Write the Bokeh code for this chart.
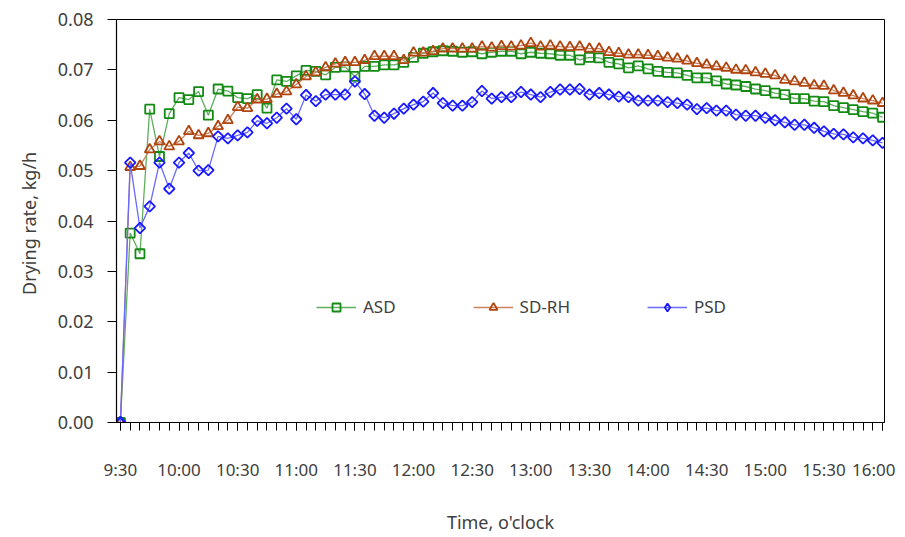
from bokeh.plotting import figure
from bokeh.models import Range1d, FixedTicker, NumeralTickFormatter, Legend, LegendItem
from bokeh.embed import file_html
from bokeh.resources import INLINE

# minutes after 9:30 (5-minute readings)
minutes = [0, 5, 10, 15, 20, 25, 30, 35, 40, 45, 50, 55, 60, 65, 70, 75, 80, 85, 90, 95,
           100, 105, 110, 115, 120, 125, 130, 135, 140, 145, 150, 155, 160, 165, 170, 175,
           180, 185, 190, 195, 200, 205, 210, 215, 220, 225, 230, 235, 240, 245, 250, 255,
           260, 265, 270, 275, 280, 285, 290, 295, 300, 305, 310, 315, 320, 325, 330, 335,
           340, 345, 350, 355, 360, 365, 370, 375, 380, 385, 390]

asd = [0.0, 0.0376, 0.0335, 0.0622, 0.0528, 0.0613, 0.0645, 0.0641, 0.0657, 0.0610,
       0.0662, 0.0658, 0.0645, 0.0643, 0.0651, 0.0624, 0.0680, 0.0677, 0.0688, 0.0699,
       0.0697, 0.0690, 0.0705, 0.0706, 0.0687, 0.0707, 0.0707, 0.0710, 0.0710, 0.0715,
       0.0725, 0.0733, 0.0736, 0.0738, 0.0737, 0.0735, 0.0736, 0.0732, 0.0735, 0.0737,
       0.0737, 0.0732, 0.0735, 0.0733, 0.0732, 0.0729, 0.0729, 0.0720, 0.0725, 0.0724,
       0.0715, 0.0712, 0.0704, 0.0708, 0.0702, 0.0697, 0.0695, 0.0694, 0.0689, 0.0684,
       0.0684, 0.0678, 0.0672, 0.0670, 0.0667, 0.0662, 0.0659, 0.0654, 0.0651, 0.0643,
       0.0643, 0.0638, 0.0637, 0.0629, 0.0625, 0.0621, 0.0617, 0.0614, 0.0606]

sd_rh = [0.0, 0.0507, 0.0509, 0.0542, 0.0558, 0.0548, 0.0558, 0.0578, 0.0570, 0.0574,
         0.0588, 0.0600, 0.0626, 0.0624, 0.0641, 0.0642, 0.0652, 0.0657, 0.0671, 0.0687,
         0.0695, 0.0705, 0.0712, 0.0715, 0.0715, 0.0719, 0.0727, 0.0727, 0.0727, 0.0719,
         0.0734, 0.0734, 0.0737, 0.0742, 0.0742, 0.0742, 0.0742, 0.0746, 0.0744, 0.0747,
         0.0746, 0.0748, 0.0753, 0.0746, 0.0748, 0.0746, 0.0745, 0.0746, 0.0742, 0.0742,
         0.0735, 0.0733, 0.0730, 0.0730, 0.0729, 0.0727, 0.0724, 0.0722, 0.0718, 0.0713,
         0.0710, 0.0707, 0.0704, 0.0700, 0.0699, 0.0695, 0.0692, 0.0689, 0.0680, 0.0677,
         0.0674, 0.0669, 0.0668, 0.0659, 0.0654, 0.0649, 0.0643, 0.0639, 0.0634]

psd = [0.0, 0.0516, 0.0386, 0.0429, 0.0516, 0.0464, 0.0516, 0.0535, 0.0500, 0.0501,
       0.0568, 0.0564, 0.0570, 0.0576, 0.0599, 0.0594, 0.0605, 0.0623, 0.0602, 0.0650,
       0.0638, 0.0651, 0.0651, 0.0651, 0.0677, 0.0652, 0.0609, 0.0605, 0.0613, 0.0623,
       0.0631, 0.0637, 0.0654, 0.0634, 0.0629, 0.0629, 0.0636, 0.0658, 0.0643, 0.0646,
       0.0646, 0.0656, 0.0651, 0.0646, 0.0656, 0.0661, 0.0661, 0.0662, 0.0651, 0.0654,
       0.0651, 0.0647, 0.0646, 0.0639, 0.0639, 0.0639, 0.0636, 0.0634, 0.0631, 0.0622,
       0.0624, 0.0619, 0.0619, 0.0611, 0.0609, 0.0609, 0.0605, 0.0600, 0.0596, 0.0591,
       0.0591, 0.0585, 0.0578, 0.0573, 0.0572, 0.0566, 0.0564, 0.0560, 0.0555]

x_tick_pos = [0, 30, 60, 90, 120, 150, 180, 210, 240, 270, 300, 330, 360, 390]
x_tick_labels = ["9:30", "10:00", "10:30", "11:00", "11:30", "12:00", "12:30",
                 "13:00", "13:30", "14:00", "14:30", "15:00", "15:30", "16:00"]
y_ticks = [0.0, 0.01, 0.02, 0.03, 0.04, 0.05, 0.06, 0.07, 0.08]

FONT = "Noto Sans"
TXT = "#404040"

p = figure(width=895, height=536, output_backend="svg", toolbar_location=None,
           x_range=Range1d(-2, 391), y_range=Range1d(0, 0.08),
           min_border_left=116, min_border_right=11, min_border_top=19, min_border_bottom=114)
p.xgrid.visible = False
p.ygrid.visible = False
p.outline_line_color = "black"
p.outline_line_width = 1
p.background_fill_color = "white"
p.border_fill_color = "white"

series = [
    ("ASD", asd, "#138a13", "#5fae5f", "square", 9, 0, None),
    ("SD-RH", sd_rh, "#b0440f", "#c9835f", "triangle", 10, 0, None),
    ("PSD", psd, "#1a1aff", "#6a6aff", "square", 7.5, 0.785398, "diamond"),
]
items = []
for name, ys, mc, lc, marker, size, ang, lmarker in series:
    ln = p.line(minutes, ys, line_color=lc, line_width=1.3)
    sc = p.scatter(minutes, ys, marker=marker, size=size, angle=ang,
                   line_color=mc, line_width=1.8, fill_color=None)
    if lmarker is not None:
        # legend symbol: same first reading, drawn as an upright diamond
        sc = p.scatter(minutes[:1], ys[:1], marker=lmarker, size=12,
                       line_color=mc, line_width=1.8, fill_color=None)
    items.append(LegendItem(label=name, renderers=[ln, sc]))

legend = Legend(items=items, orientation="horizontal", location=(200, 104),
                border_line_color=None, background_fill_alpha=0,
                padding=0, margin=0, spacing=77, label_standoff=7,
                glyph_width=40, glyph_height=20, label_height=20,
                label_text_font=FONT, label_text_font_size="17px",
                label_text_color=TXT)
p.add_layout(legend, "center")

xa = p.xaxis[0]
xa.ticker = FixedTicker(ticks=x_tick_pos, minor_ticks=minutes)
xa.major_label_overrides = {t: l for t, l in zip(x_tick_pos, x_tick_labels)}
xa.major_tick_out = 8
xa.major_tick_in = 0
xa.minor_tick_out = 8
xa.minor_tick_in = 0
xa.major_label_standoff = 27
xa.axis_label = "Time, o'clock"
xa.axis_label_standoff = 26
xa.axis_label_text_font_style = "normal"

ya = p.yaxis[0]
ya.ticker = FixedTicker(ticks=y_ticks, minor_ticks=[])
ya.formatter = NumeralTickFormatter(format="0.00")
ya.major_tick_out = 9
ya.major_tick_in = 0
ya.minor_tick_out = 0
ya.minor_tick_in = 0
ya.major_label_standoff = 14
ya.axis_label = "Drying rate,  kg/h"
ya.axis_label_standoff = 14
ya.axis_label_text_font_style = "normal"

for ax in (xa, ya):
    ax.axis_line_color = "black"
    ax.axis_line_width = 1.2
    ax.major_tick_line_color = "black"
    ax.minor_tick_line_color = "black"
    ax.major_label_text_font = FONT
    ax.major_label_text_color = TXT
    ax.axis_label_text_font = FONT
    ax.axis_label_text_color = TXT
    ax.axis_label_text_font_size = "18px"
xa.major_label_text_font_size = "17px"
ya.major_label_text_font_size = "18px"

open("out.html", "w").write(file_html(p, INLINE))
